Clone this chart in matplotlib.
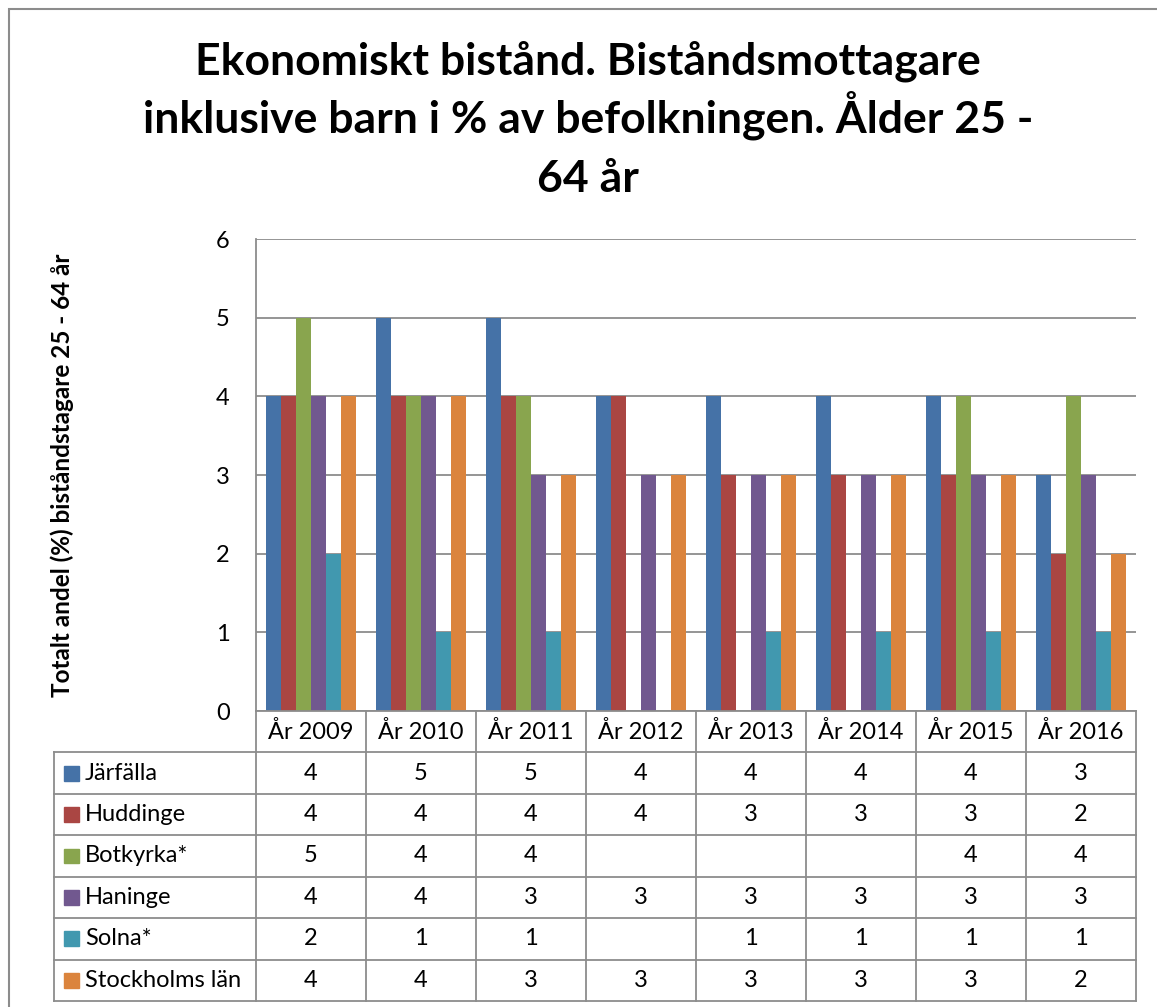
import numpy as np
import matplotlib
matplotlib.use("Agg")
import matplotlib.pyplot as plt
from matplotlib.patches import Rectangle

plt.rcParams['font.family'] = ['Lato', 'DejaVu Sans']

years = ['År 2009', 'År 2010', 'År 2011', 'År 2012', 'År 2013', 'År 2014', 'År 2015', 'År 2016']
names = ['Järfälla', 'Huddinge', 'Botkyrka*', 'Haninge', 'Solna*', 'Stockholms län']
jarfalla = [4, 5, 5, 4, 4, 4, 4, 3]
huddinge = [4, 4, 4, 4, 3, 3, 3, 2]
botkyrka = [5, 4, 4, None, None, None, 4, 4]
haninge = [4, 4, 3, 3, 3, 3, 3, 3]
solna = [2, 1, 1, None, 1, 1, 1, 1]
stockholm = [4, 4, 3, 3, 3, 3, 3, 2]
series = [jarfalla, huddinge, botkyrka, haninge, solna, stockholm]
colors = ['#4572A7', '#AA4643', '#89A54E', '#71588F', '#4198AF', '#DB843D']
title_lines = ['Ekonomiskt bistånd. Biståndsmottagare',
               'inklusive barn i % av befolkningen. Ålder 25 -',
               '64 år']

W, H = 1157, 1007
fig = plt.figure(figsize=(W / 100, H / 100), dpi=100)
grid_c = '#8c8c8c'
fs = 17

# outer chart border
fig.add_artist(Rectangle((9 / W, -0.01), 1.05, 1 - 9 / H + 0.01, transform=fig.transFigure,
                         fill=False, edgecolor='#8c8c8c', lw=1.5))

# plot area
ax = fig.add_axes([256 / W, 1 - 711 / H, 880 / W, 472 / H])
n = len(series)
bw = 0.136
x = np.arange(len(years)) + 0.5
for k, (vals, c) in enumerate(zip(series, colors)):
    v = np.array([np.nan if a is None else a for a in vals], dtype=float)
    ax.bar(x + (k - (n - 1) / 2) * bw, v, width=bw, color=c, zorder=3)
ax.set_xlim(0, len(years))
ax.set_ylim(0, 6)
ax.set_yticks(range(7))
ax.set_xticks([])
ax.tick_params(axis='y', length=0, pad=19, labelsize=fs)
ax.grid(axis='y', color=grid_c, lw=1.3, zorder=0)
for s in ['top', 'right', 'bottom']:
    ax.spines[s].set_visible(False)
ax.spines['left'].set_color(grid_c)
ax.spines['left'].set_linewidth(1.3)
ax.set_ylabel('Totalt andel (%) biståndstagare 25 - 64 år', fontsize=17.5, fontweight='bold',
              va='center')
ax.yaxis.set_label_coords((62 - 256) / 880, 0.5)

# data table
tab = fig.add_axes([54 / W, 1 - 1001 / H, 1082 / W, 290 / H])
lab_w = 202 / 110
tab.set_xlim(-lab_w, len(years))
tab.set_ylim(len(names), -1)
tab.axis('off')
lk = dict(color=grid_c, lw=1.3, clip_on=False)
tab.plot([0, len(years)], [-1, -1], **lk)
for i in range(len(years) + 1):
    tab.plot([i, i], [-1, len(names)], **lk)
tab.plot([-lab_w, -lab_w], [0, len(names)], **lk)
for r in range(len(names) + 1):
    tab.plot([-lab_w, len(years)], [r, r], **lk)
for i, yr in enumerate(years):
    tab.text(i + 0.5, -0.5, yr, ha='center', va='center', fontsize=fs)
for r, (nm, vals, c) in enumerate(zip(names, series, colors)):
    tab.add_patch(Rectangle((-lab_w + 10 / 110, r + 0.32), 15 / 110, 0.36, color=c))
    tab.text(-lab_w + 31 / 110, r + 0.5, nm, ha='left', va='center', fontsize=fs)
    for i, v in enumerate(vals):
        if v is not None:
            tab.text(i + 0.5, r + 0.5, str(v), ha='center', va='center', fontsize=fs)

# title, one line at a time
for line, base in zip(title_lines, [75, 133, 192]):
    fig.text(588 / W, 1 - base / H, line, ha='center', va='baseline',
             fontsize=32, fontweight='bold')

fig.savefig('out.png', dpi=100, facecolor='white')
